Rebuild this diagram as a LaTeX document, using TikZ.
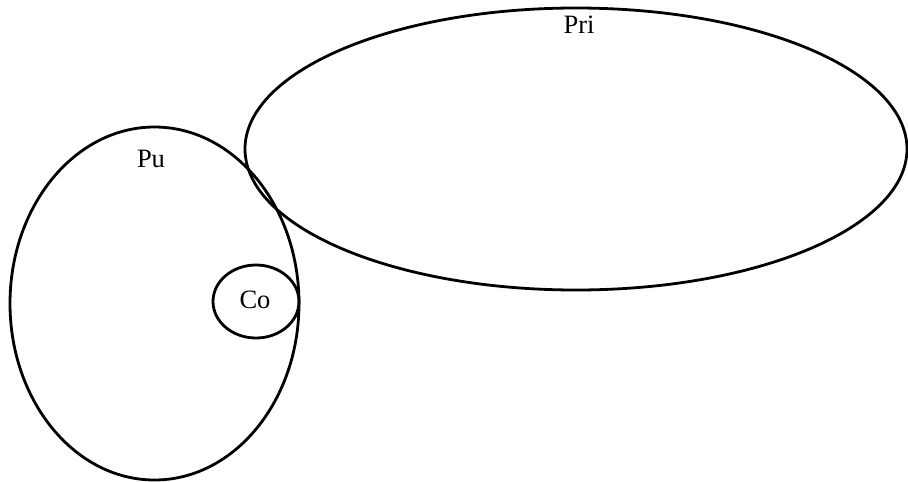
\documentclass[tikz,border=0pt]{standalone}
\usepackage{fontspec}
\setmainfont{Liberation Serif}
\usetikzlibrary{shapes.geometric}
\begin{document}
\begin{tikzpicture}[x=1pt,y=-1pt,
  setshape/.style={ellipse,draw=black,line width=2.8pt,inner sep=0pt,outer sep=0pt},
  lbl/.style={font=\fontsize{26.5}{29}\selectfont,inner sep=0pt}]
\useasboundingbox (0,0) rectangle (908,482);
\node[setshape,minimum width=662pt,minimum height=282pt] (pri) at (576,149) {};
\node[setshape,minimum width=289pt,minimum height=353pt] (pu) at (154.5,303.5) {};
\node[setshape,minimum width=86pt,minimum height=73pt] (co) at (256,301.5) {};
\node[lbl] (prilbl) at (579,25) {Pri};
\node[lbl] (pulbl) at (151,159) {Pu};
\node[lbl] (colbl) at (255,300) {Co};
\end{tikzpicture}
\end{document}
